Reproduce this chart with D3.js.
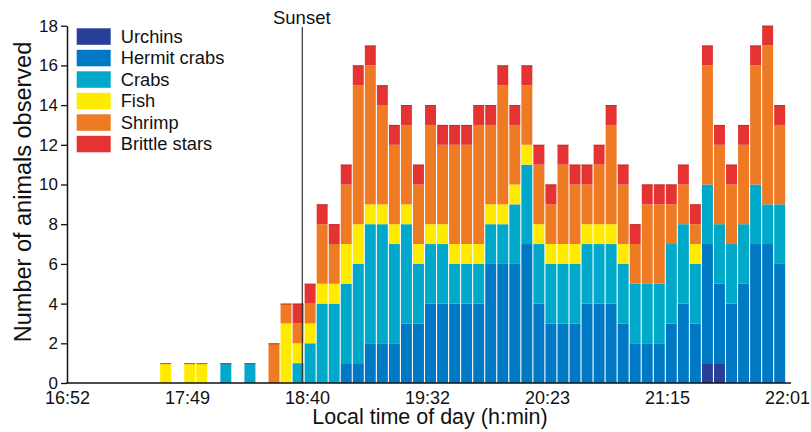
<!DOCTYPE html>
<html>
<head>
<meta charset="utf-8">
<script src="https://cdn.jsdelivr.net/npm/d3@7"></script>
<style>
  html, body { margin: 0; padding: 0; background: #fff; }
  svg { display: block; font-family: "Liberation Sans", Arial, Helvetica, sans-serif; }
</style>
</head>
<body>
<svg id="chart" width="811" height="432"></svg>
<script>
// Observation bins (consecutive intervals across the evening)
const binCount = 60;
const bins = d3.range(binCount);

// Counts per bin for each animal group (stacked bottom to top)
const urchins = [0,0,0,0,0,0,0,0,0,0, 0,0,0,0,0,0,0,0,0,0, 0,0,0,0,0,0,0,0,0,0,
                 0,0,0,0,0,0,0,0,0,0, 0,0,0,0,0,0,0,0,0,0, 0,0,0,1,1,0,0,0,0,0];
const hermitCrabs = [0,0,0,0,0,0,0,0,0,0, 0,0,0,0,0,0,0,0,0,0, 0,0,0,1,1,2,2,2,3,3,
                     4,4,4,4,4,6,6,6,7,4, 3,3,3,4,4,4,3,2,2,2, 3,4,3,6,4,4,5,7,7,6];
const crabs = [0,0,0,0,0,0,0,0,0,0, 0,0,0,1,0,1,0,0,0,1, 2,4,4,4,5,6,6,5,5,3,
               3,3,2,2,2,2,2,3,4,3, 3,3,3,3,3,3,3,3,3,3, 4,4,3,3,3,3,3,3,2,3];
const fish = [0,0,0,0,0,0,0,0,1,0, 1,1,0,0,0,0,0,0,3,1, 1,1,1,2,2,1,1,1,1,1,
              1,1,1,1,1,1,1,1,1,1, 1,1,1,1,1,1,1,0,0,0, 0,0,1,0,0,0,0,0,0,0];
const shrimp = [0,0,0,0,0,0,0,0,0,0, 0,0,0,0,0,0,0,2,1,1, 1,3,2,3,7,7,5,4,4,3,
                5,4,5,5,6,4,6,3,3,3, 2,4,3,2,3,5,3,2,4,4, 2,2,1,6,4,3,4,6,8,4];
const brittleStars = [0,0,0,0,0,0,0,0,0,0, 0,0,0,0,0,0,0,0,0,1, 1,1,1,1,1,1,1,1,1,1,
                      1,1,1,1,1,1,1,1,1,1, 1,1,1,1,1,1,1,1,1,1, 1,1,1,1,1,1,1,1,1,1];

const seriesNames = ["Urchins", "Hermit crabs", "Crabs", "Fish", "Shrimp", "Brittle stars"];
const seriesValues = [urchins, hermitCrabs, crabs, fish, shrimp, brittleStars];
const seriesColors = ["#293e97", "#0079c4", "#00a9c9", "#ffeb00", "#ee7a24", "#e53333"];

// Time-of-day axis labels and their clock times
const timeLabels = ["16:52", "17:49", "18:40", "19:32", "20:23", "21:15", "22:01"];
const sunsetLabel = "Sunset";
const sunsetTime = "18:38";

const yTicks = d3.range(0, 19, 2);

// ---- layout ----
const svg = d3.select("#chart");
const plotLeft = 67, plotRight = 787, axisEnd = 791;
const plotTop = 25.7, plotBottom = 383;

const toMinutes = s => { const [h, m] = s.split(":").map(Number); return h * 60 + m; };

// bins run slightly past the axis origin on the left
const x = d3.scaleBand()
  .domain(bins)
  .range([63.3, 785.7])
  .paddingInner(0.09)
  .paddingOuter(0.045);

// evenly spaced labelled positions along the time axis
const xLabel = d3.scalePoint().domain(timeLabels).range([plotLeft, plotRight]);
// clock time -> position, piecewise through the labelled times
const xTime = d3.scaleLinear()
  .domain(timeLabels.map(toMinutes))
  .range(timeLabels.map(t => xLabel(t)));

const y = d3.scaleLinear().domain([0, 18]).range([plotBottom, plotTop]);

// ---- stacked bars ----
const table = bins.map(i => {
  const row = { bin: i };
  seriesNames.forEach((n, k) => row[n] = seriesValues[k][i]);
  return row;
});
const stacked = d3.stack().keys(seriesNames)(table);

const layers = svg.append("g").attr("class", "bars")
  .selectAll("g").data(stacked).join("g")
  .attr("fill", (d, k) => seriesColors[k]);

layers.selectAll("rect")
  .data(d => d.filter(p => p[1] > p[0]))
  .join("rect")
  .attr("x", p => x(p.data.bin))
  .attr("width", x.bandwidth())
  .attr("y", p => y(p[1]))
  .attr("height", p => y(p[0]) - y(p[1]));

// thin dark rim along the top of each column
const totals = table.map(r => ({ bin: r.bin, total: d3.sum(seriesNames, n => r[n]) }))
  .filter(r => r.total > 0);
svg.append("g").attr("class", "rims")
  .selectAll("line").data(totals).join("line")
  .attr("x1", d => x(d.bin))
  .attr("x2", d => x(d.bin) + x.bandwidth())
  .attr("y1", d => y(d.total) + 0.5)
  .attr("y2", d => y(d.total) + 0.5)
  .attr("stroke", "#b4302c")
  .attr("stroke-opacity", 0.85)
  .attr("stroke-width", 1);

// ---- sunset marker ----
const sx = xTime(toMinutes(sunsetTime));
svg.append("line")
  .attr("x1", sx).attr("x2", sx)
  .attr("y1", 27).attr("y2", plotBottom)
  .attr("stroke", "#333").attr("stroke-width", 1.2);
svg.append("text")
  .attr("x", sx - 0.5).attr("y", 24)
  .attr("text-anchor", "middle")
  .attr("font-size", 18.5)
  .attr("fill", "#111")
  .text(sunsetLabel);

// ---- axes ----
const yAxis = svg.append("g")
  .attr("transform", `translate(${plotLeft},0)`)
  .call(d3.axisLeft(y).tickValues(yTicks).tickSize(6).tickPadding(3).tickSizeOuter(0));
yAxis.select(".domain").attr("stroke", "#111").attr("stroke-width", 1.5);
yAxis.selectAll(".tick line").attr("stroke", "#111").attr("stroke-width", 1.3);
yAxis.selectAll(".tick text").attr("font-size", 17).attr("fill", "#111")
  .attr("font-family", "Liberation Sans, Arial, sans-serif");

const xAxis = svg.append("g")
  .attr("transform", `translate(0,${plotBottom})`)
  .call(d3.axisBottom(xLabel).tickSize(0).tickPadding(8));
xAxis.select(".domain").remove();
xAxis.selectAll(".tick text").attr("font-size", 18).attr("fill", "#111")
  .attr("font-family", "Liberation Sans, Arial, sans-serif");
svg.append("line")
  .attr("x1", plotLeft - 0.75).attr("x2", axisEnd)
  .attr("y1", plotBottom).attr("y2", plotBottom)
  .attr("stroke", "#111").attr("stroke-width", 1.6);

// axis titles
svg.append("text")
  .attr("x", 430).attr("y", 424)
  .attr("text-anchor", "middle")
  .attr("font-size", 21.5)
  .attr("fill", "#111")
  .text("Local time of day (h:min)");
svg.append("text")
  .attr("transform", "translate(31,192) rotate(-90)")
  .attr("text-anchor", "middle")
  .attr("font-size", 23.5)
  .attr("fill", "#111")
  .text("Number of animals observed");

// ---- legend ----
const legend = svg.append("g").attr("transform", "translate(76.7,28.3)");
const rows = legend.selectAll("g").data(seriesNames).join("g")
  .attr("transform", (d, i) => `translate(0,${i * 21.5})`);
rows.append("rect")
  .attr("width", 34).attr("height", 16.5)
  .attr("fill", (d, i) => seriesColors[i]);
rows.append("text")
  .attr("x", 44).attr("y", 14.6)
  .attr("font-size", 18.3)
  .attr("fill", "#111")
  .text(d => d);
</script>
</body>
</html>
